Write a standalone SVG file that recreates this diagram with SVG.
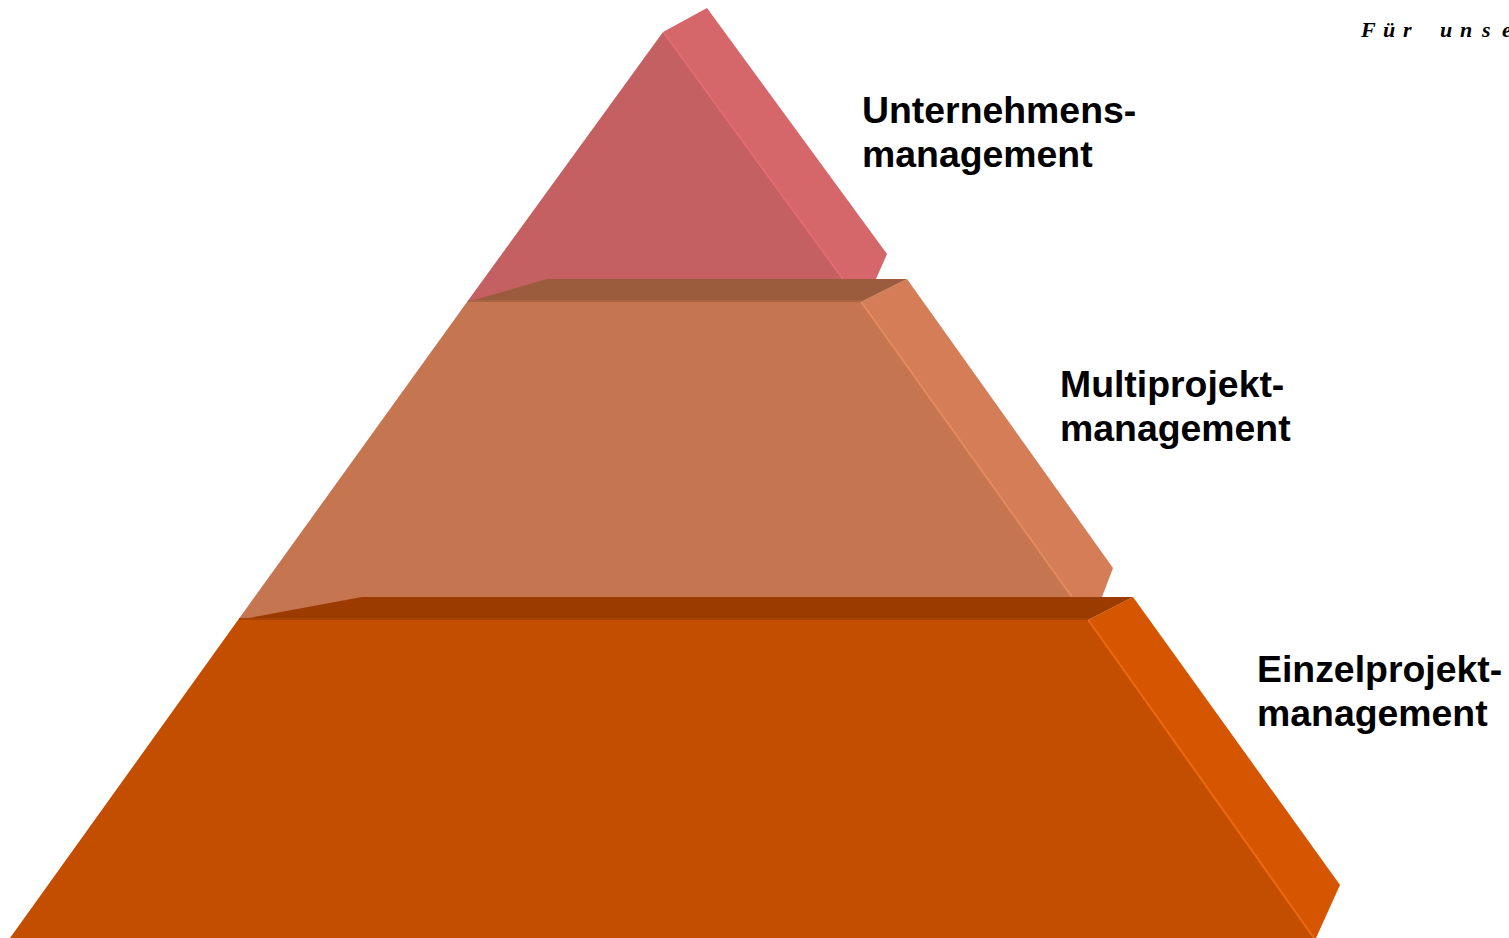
<svg xmlns="http://www.w3.org/2000/svg" width="1509" height="938" viewBox="0 0 1509 938">
<style>
.lbl{font-family:"Liberation Sans",Arial,sans-serif;font-weight:bold;font-size:37.4px;fill:#000}
.ttl{font-family:"Liberation Serif","Times New Roman",serif;font-weight:bold;font-style:italic;font-size:22px;fill:#000}
.hl{fill:none;stroke-width:2}
</style>
<rect width="1509" height="938" fill="#fff"/>
<text class="ttl" x="1361 1383 1403 1422 1440 1460 1482 1502" y="37">Für unse</text>
<g id="tier-top">
  <polygon points="663,32 861,302 467,302" fill="#c46062"/>
  <polygon points="663,32 707,8 887,254 876,279 843,279" fill="#d5666a"/>
  <line class="hl" x1="664" y1="33" x2="843" y2="279" stroke="#df6c72"/>
</g>
<g id="tier-middle">
  <polygon points="467,302 861,302 1088,620 238,620" fill="#c5754f"/>
  <polygon points="861,302 907,279 1113,568 1102,597 1072,597" fill="#d47d57"/>
  <line class="hl" x1="862" y1="303" x2="1072" y2="597" stroke="#e38a5e"/>
  <polygon points="467,302 547,279 907,279 861,302" fill="#9a5c3c"/>
  <line x1="468" y1="301" x2="861" y2="301" stroke="#a96545" stroke-width="2"/>
</g>
<g id="tier-bottom">
  <polygon points="238,620 1088,620 1315,938 10,938" fill="#c34e00"/>
  <polygon points="1088,620 1133,597 1340,885 1316,938 1313,938" fill="#d55500"/>
  <line class="hl" x1="1089" y1="621" x2="1314" y2="938" stroke="#ea6a12"/>
  <polygon points="238,620 362,597 1133,597 1088,620" fill="#9b3b00"/>
  <line x1="239" y1="619" x2="1088" y2="619" stroke="#a84200" stroke-width="2"/>
</g>
<g id="label-top">
  <text class="lbl" x="862" y="123">Unternehmens-</text>
  <text class="lbl" x="862" y="167">management</text>
</g>
<g id="label-middle">
  <text class="lbl" x="1060" y="397">Multiprojekt-</text>
  <text class="lbl" x="1060" y="441">management</text>
</g>
<g id="label-bottom">
  <text class="lbl" x="1257" y="682">Einzelprojekt-</text>
  <text class="lbl" x="1257" y="726">management</text>
</g>
</svg>
